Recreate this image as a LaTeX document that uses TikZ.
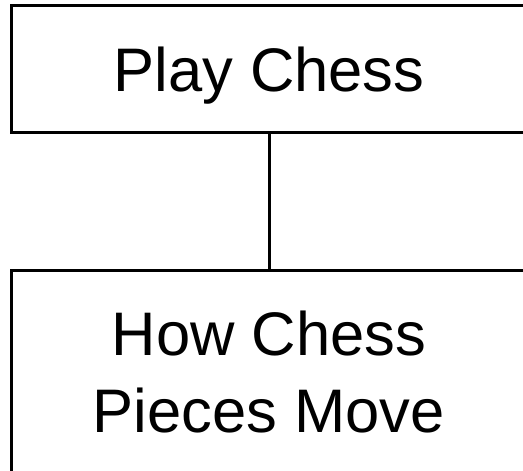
\documentclass[tikz,border=0pt]{standalone}
\usepackage{fontspec}
\setmainfont{Liberation Sans}
\usepackage{tikz}
\usetikzlibrary{positioning}

\begin{document}
\begin{tikzpicture}[x=1pt, y=1pt,
    chessbox/.style={draw, line width=3pt, minimum width=516pt, inner sep=0pt,
      align=center, font=\fontsize{61.5}{77}\selectfont}]
  \useasboundingbox (0,0) rectangle (523,471);
  \node[chessbox, minimum height=126.5pt, text depth=0pt] (play) at (269,401.75) {Play Chess};
  \node[chessbox, minimum height=204pt] (moves) at (269,98.5) {How Chess\\Pieces Move};
  \draw[line width=3pt] (play.south) -- (moves.north);
\end{tikzpicture}
\end{document}
